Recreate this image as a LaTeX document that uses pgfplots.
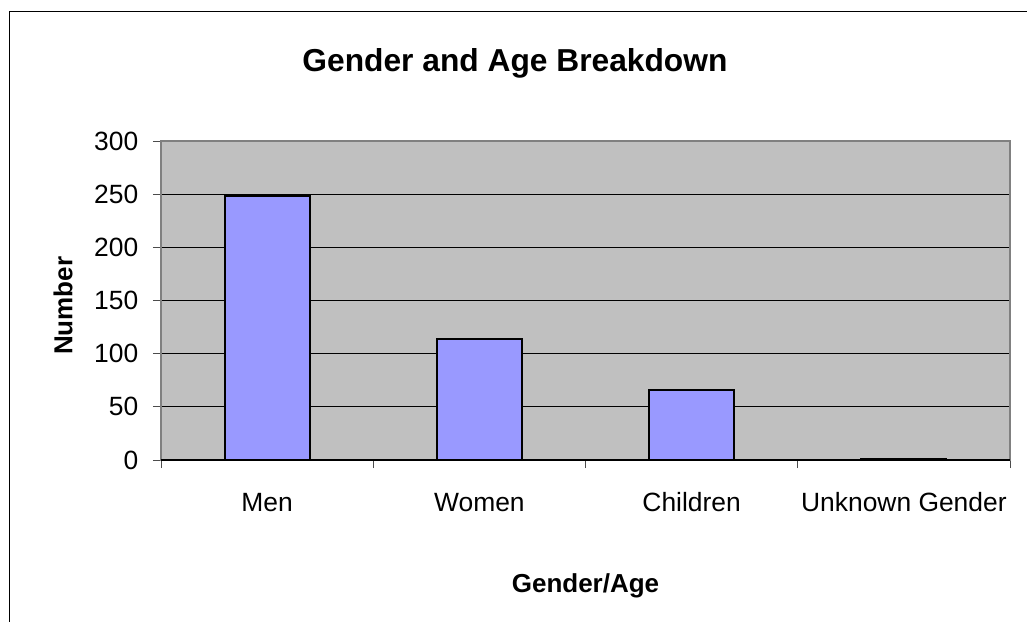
\documentclass[border=0pt]{standalone}
\usepackage{fontspec}
\setmainfont{Liberation Sans}
\usepackage{pgfplots}
\pgfplotsset{compat=1.18}
\definecolor{plotbg}{RGB}{192,192,192}
\definecolor{barfill}{RGB}{153,153,255}
\definecolor{axgray}{RGB}{128,128,128}
\begin{document}
\begin{tikzpicture}
\useasboundingbox (0pt,0pt) rectangle (770.25pt,-465.75pt);
\draw[black, line width=0.9pt] (7.1pt,-470pt) -- (7.1pt,-8.4pt) -- (775pt,-8.4pt);
\begin{axis}[
  at={(120.75pt,-345pt)}, anchor=south west,
  width=636.75pt, height=239.25pt, scale only axis,
  xmin=0.5, xmax=4.5, ymin=0, ymax=300,
  ytick={0,50,...,300},
  axis background/.style={fill=plotbg},
  ymajorgrids, grid style={black, line width=0.6pt},
  axis line style={axgray, line width=1.3pt},
  tick pos=left,
  tick align=outside, major tick length=6pt,
  tick style={black!70, line width=0.6pt},
  xtick={0.5,1.5,2.5,3.5,4.5}, xticklabels={},
  extra x ticks={1,2,3,4},
  extra x tick labels={Men,Women,Children,Unknown Gender},
  extra x tick style={major tick length=0pt, grid=none,
     xticklabel style={anchor=base, yshift=-38.5pt}},
  tick label style={font=\fontsize{19.8}{23}\selectfont},
  /pgf/number format/assume math mode=true,
  yticklabel style={xshift=-7.5pt},
  title={\bfseries Gender and Age Breakdown},
  title style={font=\fontsize{23.8}{28}\selectfont, at={(rel axis cs:0.5,1)}, anchor=center, xshift=-52.9pt, yshift=52.5pt},
  xlabel={\bfseries Gender/Age},
  xlabel style={font=\fontsize{19.5}{23}\selectfont, at={(rel axis cs:0.5,0)}, anchor=center, yshift=-94pt},
  ylabel={\bfseries Number},
  ylabel style={font=\fontsize{19.5}{23}\selectfont, at={(rel axis cs:0,0.5)}, anchor=center, yshift=73.5pt, xshift=-4pt},
]
\addplot[ybar, bar width=0.4, fill=barfill, draw=black, line width=1.5pt]
  coordinates {(1,248) (2,114) (3,66) (4,1)};
\draw[black, line width=0.8pt] (rel axis cs:0,0) -- (rel axis cs:1,0);
\end{axis}
\end{tikzpicture}
\end{document}
